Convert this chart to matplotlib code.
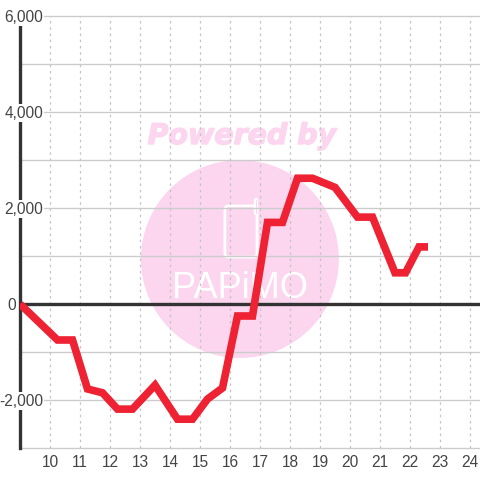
import matplotlib
matplotlib.use("Agg")
import matplotlib.pyplot as plt
import matplotlib.patheffects as pe
from matplotlib.patches import Ellipse, FancyBboxPatch

plt.rcParams['font.family'] = ['Liberation Sans', 'DejaVu Sans']

# data
hours = [9, 10.25, 10.75, 11.25, 11.75, 12.25, 12.75, 13.5, 14.25, 14.75, 15.25, 15.75,
         16.25, 16.75, 17.25, 17.75, 18.25, 18.75, 19.5, 20.25, 20.75, 21.5, 21.85, 22.3, 22.6]
values = [0, -750, -750, -1770, -1850, -2190, -2190, -1690, -2400, -2400, -1980, -1750,
          -250, -250, 1700, 1700, 2620, 2620, 2430, 1810, 1810, 650, 650, 1190, 1190]
x_ticks = list(range(10, 25))
y_grid = [-3000, -2000, -1000, 0, 1000, 2000, 3000, 4000, 5000, 6000]
y_ticks = [6000, 4000, 2000, 0, -2000]
y_labels = ['6,000', '4,000', '2,000', '0', '-2,000']

pink = '#FCD6EF'

fig = plt.figure(figsize=(4.8, 4.8), dpi=100)
ax = fig.add_axes([20 / 480, 32 / 480, 460 / 480, 432 / 480])
ax.set_xlim(9, 24 + 1 / 3)
ax.set_ylim(-3000, 6000)

# watermark
ax.add_patch(Ellipse((16.33, 937), 198 / 30, 198 / 48 * 1000, fc=pink, ec='none', zorder=0))
ax.text(16.4, 3500, 'Powered by', color=pink, fontsize=20.5, fontweight='bold', style='italic',
        family='DejaVu Sans', ha='center', va='center', zorder=0,
        path_effects=[pe.withStroke(linewidth=1, foreground=pink)])
ax.add_patch(FancyBboxPatch((15.89, 1016), 0.95, 990, boxstyle='round,pad=0.06,rounding_size=0.12',
                            mutation_aspect=625, fc='none', ec='white', lw=2, zorder=0))
ax.plot([16.86, 16.86], [1900, 2170], color='white', lw=3.2, solid_capstyle='round', zorder=0)
ax.plot([16.86, 16.86], [1900, 2170], color=pink, lw=0.8, solid_capstyle='round', zorder=0)
ax.text(16.33, 330, 'PAPiMO', color='white', fontsize=26, family='Liberation Sans',
        ha='center', va='center', zorder=0)

# grid
for y in y_grid:
    ax.axhline(y, color='#cccccc', lw=1.0, zorder=1, clip_on=False)
for x in x_ticks:
    ax.axvline(x, color='#c4c4c4', lw=0.9, ls=(0, (2, 3)), zorder=1)

for side in ['top', 'right', 'bottom']:
    ax.spines[side].set_visible(False)
ax.spines['left'].set_color('#333333')
ax.spines['left'].set_linewidth(2.4)
ax.set_yticks([])
ax.set_xticks(x_ticks)
ax.set_xticklabels([str(x) for x in x_ticks], fontsize=11.2, color='#444444')
ax.tick_params(axis='x', length=0, pad=5)

# zero line and series
ax.axhline(0, color='#333333', lw=2.4, zorder=3)
ax.plot(hours, values, color='#EE2233', lw=5.5, solid_joinstyle='miter', solid_capstyle='butt', zorder=4)

# y labels sit on white boxes and break the axis line
for v, lab in zip(y_ticks, y_labels):
    off = -4 if lab == '0' else 23
    box = None if lab == '0' else dict(fc='white', ec='none', pad=1)
    ax.annotate(lab, xy=(0, v), xycoords=ax.get_yaxis_transform(), xytext=(off, -1), textcoords='offset pixels',
                ha='right', va='center', fontsize=11.2, color='#444444', bbox=box, zorder=5, annotation_clip=False)

fig.savefig('out.png', dpi=100)
